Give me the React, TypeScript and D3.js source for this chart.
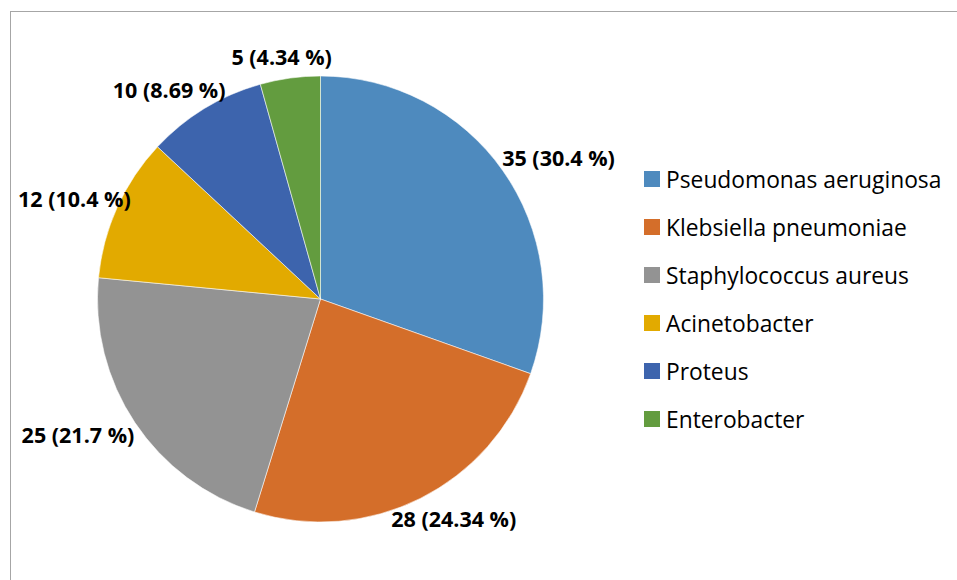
import React, { useEffect, useRef } from "react";
import * as d3 from "d3";

const categories = [
  "Pseudomonas aeruginosa",
  "Klebsiella pneumoniae",
  "Staphylococcus aureus",
  "Acinetobacter",
  "Proteus",
  "Enterobacter",
];
const counts = [35, 28, 25, 12, 10, 5];
const percentLabels = ["30.4", "24.34", "21.7", "10.4", "8.69", "4.34"];
const colors = ["#4E8ABE", "#D46E2A", "#939393", "#E2AA00", "#3D64AD", "#639C3F"];

const W = 957;
const H = 580;

export default function App() {
  const ref = useRef<SVGSVGElement | null>(null);

  useEffect(() => {
    const svg = d3.select(ref.current);
    svg.selectAll("*").remove();

    // frame
    svg
      .append("rect")
      .attr("x", 10.5)
      .attr("y", 11.5)
      .attr("width", 1200)
      .attr("height", 1200)
      .attr("fill", "none")
      .attr("stroke", "#A6A6A6")
      .attr("stroke-width", 1);

    const cx = 320.5;
    const cy = 299;
    const r = 223;
    const plotLeft = 18;

    const data = categories.map((c, i) => ({ name: c, value: counts[i], pct: percentLabels[i], color: colors[i] }));
    const pie = d3
      .pie<any>()
      .value((d) => d.value)
      .sort(null)
      .startAngle(0)
      .endAngle(2 * Math.PI);
    const arcs = pie(data);
    const arc = d3.arc<any>().innerRadius(0).outerRadius(r);

    const g = svg.append("g").attr("transform", `translate(${cx},${cy})`);
    g.selectAll("path.slice")
      .data(arcs)
      .join("path")
      .attr("class", "slice")
      .attr("d", arc as any)
      .attr("fill", (d: any) => d.data.color)
      .attr("stroke", "rgba(255,255,255,0.55)")
      .attr("stroke-width", 1);

    // labels (outside end)
    const gap = 12;
    const fontSize = 21.5;
    const labels = g
      .selectAll("text.lbl")
      .data(arcs)
      .join("text")
      .attr("class", "lbl")
      .attr("font-family", "'Open Sans', sans-serif")
      .attr("font-weight", 700)
      .attr("font-size", fontSize)
      .attr("fill", "#000")
      .text((d: any) => `${d.data.value} (${d.data.pct} %)`);

    labels.each(function (d: any) {
      const el = this as SVGTextElement;
      const w = el.getComputedTextLength();
      const h = 20;
      const a = (d.startAngle + d.endAngle) / 2;
      const s = Math.sin(a);
      const c = Math.cos(a);
      const px = (r + gap) * s;
      const py = -(r + gap) * c;
      let left = px - (w * (1 - s)) / 2;
      if (left + cx < plotLeft) left = plotLeft - cx;
      const top = py - (h * (1 + c)) / 2;
      d3.select(el)
        .attr("x", left)
        .attr("y", top + h / 2)
        .attr("dominant-baseline", "central");
    });

    // legend
    const lg = svg.append("g").attr("transform", `translate(644,171)`);
    const items = lg
      .selectAll("g.item")
      .data(data)
      .join("g")
      .attr("class", "item")
      .attr("transform", (_d, i) => `translate(0,${i * 48})`);
    items.append("rect").attr("width", 16).attr("height", 16).attr("fill", (d) => d.color);
    items
      .append("text")
      .attr("x", 22)
      .attr("y", 8)
      .attr("dominant-baseline", "central")
      .attr("font-family", "'Open Sans', sans-serif")
      .attr("font-size", 22.8)
      .attr("fill", "#000")
      .text((d) => d.name);
  }, []);

  return (
    <svg
      ref={ref}
      width={W}
      height={H}
      style={{ position: "absolute", left: 0, top: 0, background: "#fff" }}
    />
  );
}
